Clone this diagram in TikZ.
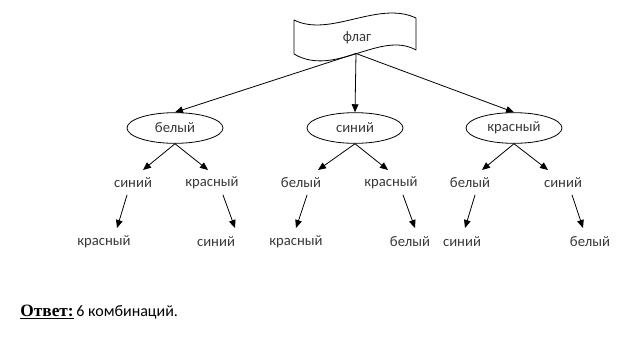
\documentclass[tikz,border=0pt]{standalone}
\usepackage{fontspec}
\setmainfont{Carlito}
\newfontfamily\otvfont{Liberation Serif}
\usetikzlibrary{arrows.meta,shapes.geometric,calc}

\begin{document}
\begin{tikzpicture}[x=0.75pt,y=-0.75pt,font=\fontsize{11}{13}\selectfont,line join=round,line cap=round,line width=0.6pt,
		oval/.style={draw,ellipse,minimum width=72pt,minimum height=23pt,inner sep=0pt,text=black!78},
		arr/.style={-{Triangle[length=6pt,width=5pt]}},
		lbl/.style={inner sep=1pt,text=black!78}]
	\useasboundingbox (0,0) rectangle (634,343);
	% banner
	\draw (294,20) .. controls (330,38) and (378,0) .. (416,18) -- (416,50) .. controls (380,30) and (335,78) .. (294,54) -- cycle;
	\node[text=black!78] (flag) at (357,38) {флаг};
	\coordinate (fb) at (356,53.5);
	% first colour
	\node[oval] (w) at (175,128) {белый};
	\node[oval] (s) at (355,128) {синий};
	\node[oval] (r) at (514,128) {красный};
	\draw[arr] (fb) -- (w.north);
	\draw[arr] (fb) -- (s.north);
	\draw[arr] (fb) -- (r.north);
	% second colour
	\node[lbl] (w1) at (133,183) {синий};
	\node[lbl] (w2) at (212,183) {красный};
	\node[lbl] (s1) at (301,183) {белый};
	\node[lbl] (s2) at (391,183) {красный};
	\node[lbl] (r1) at (470,183) {белый};
	\node[lbl] (r2) at (563,183) {синий};
	\foreach \o/\a/\da in {w/w1/10, w/w2/-4, s/s1/17, s/s2/-3, r/r1/12, r/r2/-15} {
		\draw[arr] (\o.south) -- ($(\a)+(\da,-13)$);
	}
	% third colour
	\node[lbl] (w11) at (104,242) {красный};
	\node[lbl] (w21) at (216,242) {синий};
	\node[lbl] (s11) at (296,242) {красный};
	\node[lbl] (s21) at (410,242) {белый};
	\node[lbl] (r11) at (462,242) {синий};
	\node[lbl] (r21) at (590,242) {белый};
	\foreach \a/\da/\b/\db in {w1/-6/w11/13, w2/11/w21/19, s1/6/s11/0, s2/12/s21/5, r1/5/r11/3, r2/9/r21/-7} {
		\draw[arr] ($(\a)+(\da,12)$) -- ($(\b)+(\db,-14)$);
	}
	% answer
	\node[anchor=west,inner sep=0pt,font=\fontsize{12}{14}\selectfont] (ans) at (20,312) {{\otvfont\fontsize{13}{15}\selectfont\bfseries\underline{Ответ:}}\,6 комбинаций.};
\end{tikzpicture}
\end{document}
